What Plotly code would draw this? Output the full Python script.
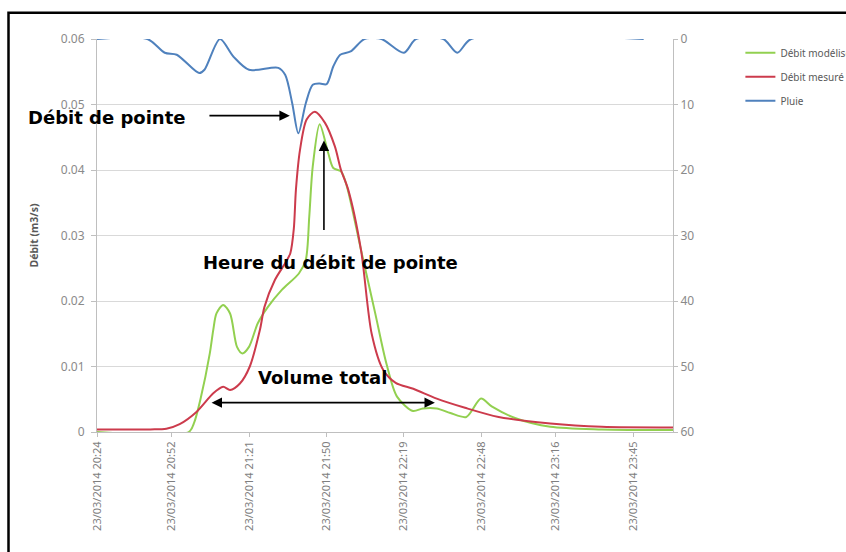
import pandas as pd
import plotly.graph_objects as go

# ---------------- data ----------------
start = "2014-03-23 20:24"
tick_times = ["20:24", "20:52", "21:21", "21:50", "22:19", "22:48", "23:16", "23:45"]
axis_end_min = 216

# Pluie (mm, right axis, reversed) - minutes after 20:24
rain_min = [0, 18.9, 25.4, 29.9, 38.3, 40.3, 46.1, 51.2, 57.0, 68.0, 70.6, 73.2, 75.5,
            78.3, 80.9, 83.5, 86.1, 88.6, 91.2, 95.1, 100.3, 106.7, 115.1, 119.6,
            129.9, 135.1, 140.3, 205.0]
rain_mm = [0, 0, 2.1, 2.4, 5.2, 4.7, 0, 2.7, 4.7, 4.4, 5.5, 9.8, 14.4,
           9.8, 7.0, 6.8, 6.9, 4.2, 2.4, 1.9, 0, 0, 2.1, 0,
           0, 2.1, 0, 0]

# Débit mesuré (m3/s)
meas_min = [0, 20, 26, 31, 37.4, 43.6, 47.3, 49.9, 53.6, 57.3, 61.1, 62.8, 66.7, 70.6,
            72.5, 73.8, 74.6, 76.1, 78.6, 81.7, 85.5, 89.2, 91.5, 94.2, 99.0, 103.0,
            107.3, 112.0, 118.6, 127.4, 138.0, 150.6, 170.0, 189.3, 216.0]
meas_flow = [0.0004, 0.0004, 0.0005, 0.0012, 0.0031, 0.0059, 0.0069, 0.0064, 0.0074,
             0.0100, 0.0156, 0.0191, 0.0232, 0.0258, 0.0273, 0.0310, 0.0370, 0.0430,
             0.0477, 0.0489, 0.0472, 0.0436, 0.0400, 0.0370, 0.0278, 0.0150, 0.0095,
             0.0075, 0.0066, 0.0051, 0.0037, 0.0023, 0.0013, 0.0008, 0.0007]

# Débit modélisé (m3/s)
model_min = [0, 34.4, 36.5, 38.8, 42.3, 43.6, 44.8, 47.3, 49.9, 52.5, 54.5, 57.0, 60.3,
             64.1, 69.3, 75.7, 78.3, 79.6, 80.9, 83.5, 86.7, 88.6, 91.5, 93.7, 99.0,
             104.4, 108.5, 112.5, 118.5, 122.2, 127.4, 132.5, 138.5, 144.0, 148.0,
             157.0, 170.0, 189.3, 216.0]
model_flow = [0, 0, 0.0015, 0.0050, 0.0120, 0.0156, 0.0181, 0.0194, 0.0181, 0.0130,
              0.0120, 0.0130, 0.0166, 0.0191, 0.0217, 0.0242, 0.0263, 0.0329, 0.0405,
              0.0470, 0.0426, 0.0403, 0.0398, 0.0375, 0.0278, 0.0180, 0.0105, 0.0054,
              0.0032, 0.0036, 0.0036, 0.0029, 0.0023, 0.0051, 0.0039, 0.0021, 0.0008,
              0.0004, 0.0003]

series_names = ["Débit modélisé", "Débit mesuré", "Pluie"]
series_colors = ["#92D050", "#CC3B4C", "#4F81BD"]

t0 = pd.Timestamp(start)


def to_time(mins):
    return [t0 + pd.to_timedelta(m, unit="min") for m in mins]


def at(m):
    return t0 + pd.to_timedelta(m, unit="min")


tickvals = [pd.Timestamp(f"2014-03-23 {t}") for t in tick_times]

fig = go.Figure()
fig.add_trace(go.Scatter(x=to_time(model_min), y=model_flow, name=series_names[0],
                         mode="lines", line=dict(color=series_colors[0], width=2, shape="spline", smoothing=0.8),
                         legendgroup="a"))
fig.add_trace(go.Scatter(x=to_time(meas_min), y=meas_flow, name=series_names[1],
                         mode="lines", line=dict(color=series_colors[1], width=2, shape="spline", smoothing=0.8),
                         legendgroup="b"))
fig.add_trace(go.Scatter(x=to_time(rain_min), y=rain_mm, name=series_names[2], yaxis="y2",
                         mode="lines", line=dict(color=series_colors[2], width=2, shape="spline", smoothing=0.8),
                         legendgroup="c"))

xtick_font = dict(family="Noto Sans", size=11, color="#7f7f7f")
ytick_font = dict(family="Noto Sans", size=12, color="#8a8a8a")
bold_font = dict(family="DejaVu Sans", size=18, color="black")

annotations = [
    # Débit de pointe
    dict(x=at(72.3), y=0.0483, xref="x", yref="y", ax=at(41.6), ay=0.0483, axref="x", ayref="y",
         text="", showarrow=True, arrowhead=2, arrowsize=1.3, arrowwidth=1.6, arrowcolor="black"),
    dict(x=at(3.4), y=0.0480, xref="x", yref="y", text="<b>Débit de pointe</b>", showarrow=False,
         font=bold_font, xanchor="center", yanchor="middle"),
    # Heure du débit de pointe
    dict(x=at(85.1), y=0.0445, xref="x", yref="y", ax=at(85.1), ay=0.0306, axref="x", ayref="y",
         text="", showarrow=True, arrowhead=2, arrowsize=1.3, arrowwidth=1.6, arrowcolor="black"),
    dict(x=at(87.5), y=0.0259, xref="x", yref="y", text="<b>Heure du débit de pointe</b>",
         showarrow=False, font=bold_font, xanchor="center", yanchor="middle"),
    # Volume total
    dict(x=at(126.7), y=0.00448, xref="x", yref="y", ax=at(42.4), ay=0.00448, axref="x", ayref="y",
         text="", showarrow=True, arrowhead=2, startarrowhead=2, arrowside="end+start",
         arrowsize=1.3, startarrowsize=1.3, arrowwidth=1.6, arrowcolor="black"),
    dict(x=at(84.5), y=0.00825, xref="x", yref="y", text="<b>Volume total</b>", showarrow=False,
         font=bold_font, xanchor="center", yanchor="middle"),
]

fig.update_layout(
    width=846, height=552, autosize=False,
    margin=dict(l=97, r=173, t=39, b=120, autoexpand=False),
    paper_bgcolor="white", plot_bgcolor="white",
    font=dict(family="Noto Sans", color="#595959"),
    showlegend=True,
    legend=dict(x=1.117, y=1.002, xanchor="left", yanchor="top",
                font=dict(family="Noto Sans", size=10, color="#595959"),
                traceorder="grouped", tracegroupgap=5, itemwidth=30,
                bgcolor="rgba(0,0,0,0)"),
    xaxis=dict(type="date", range=[t0, at(axis_end_min)], tickvals=tickvals,
               tickformat="%d/%m/%Y %H:%M", tickangle=-90, tickfont=xtick_font,
               showgrid=False, showline=True, linecolor="#bfbfbf", linewidth=1,
               ticks="outside", ticklen=4, tickcolor="#bfbfbf", zeroline=False),
    yaxis=dict(range=[0, 0.06], dtick=0.01, tick0=0, tickfont=ytick_font,
               showgrid=True, gridcolor="#d9d9d9", gridwidth=1,
               showline=True, linecolor="#bfbfbf", ticks="outside", ticklen=5,
               tickcolor="#bfbfbf", zeroline=False, ticklabelstandoff=4,
               title=dict(text="<b>Débit (m3/s)</b>", font=dict(family="Noto Sans", size=10.5, color="#595959"),
                          standoff=20)),
    yaxis2=dict(range=[60, 0], dtick=10, tick0=0, overlaying="y", side="right",
                tickfont=ytick_font, showgrid=False, showline=True, linecolor="#bfbfbf",
                ticks="outside", ticklen=4, tickcolor="#bfbfbf", zeroline=False),
    annotations=annotations,
    shapes=[dict(type="rect", xref="paper", yref="paper",
                 x0=(8.5 - 97) / 576, x1=1.6, y0=-0.6, y1=(432 - 12.7) / 393,
                 line=dict(color="black", width=2.5), fillcolor="rgba(0,0,0,0)", layer="above")],
)

fig.write_html("out.html", config={"displayModeBar": False},
               post_script="document.body.style.margin='0px';")
